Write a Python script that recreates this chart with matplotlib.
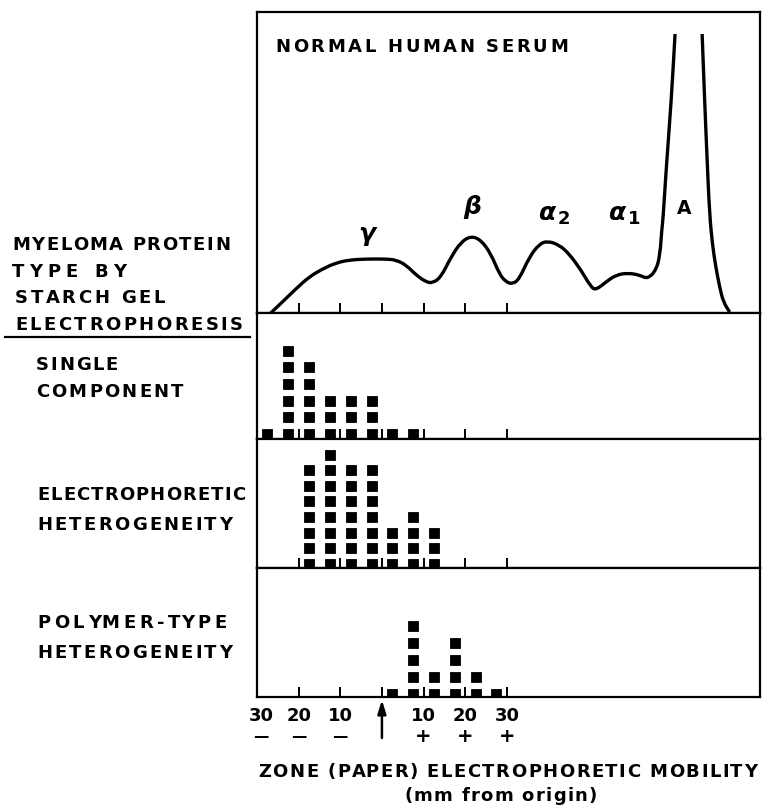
import numpy as np
import matplotlib
matplotlib.use("Agg")
import matplotlib.pyplot as plt
from matplotlib.lines import Line2D
from matplotlib.path import Path
from matplotlib.patches import PathPatch
from matplotlib.font_manager import FontProperties
from matplotlib.textpath import text_to_path
import matplotlib.transforms as mtransforms

plt.rcParams['font.family'] = ['DejaVu Sans']

# densitometer trace of normal serum (mm from origin, relative height)
serum_left_mm = [-26.7, -23.9, -20.7, -17.5, -14.3, -11.1, -7.9, -3.8, 1.0, 3.4, 5.8, 8.2,
                 10.6, 12.2, 14.2, 16.6, 19.0, 21.4, 23.8, 26.2, 28.2, 29.8, 31.4, 33.0,
                 35.4, 37.8, 39.8, 42.6, 45.0, 47.8, 50.2, 51.4, 53.8, 56.2, 59.0, 61.9,
                 63.8, 65.9, 66.8, 67.2, 67.5, 68.3, 69.5, 70.4]
serum_left_height = [0, 11, 24, 36, 44, 50, 53, 54, 54, 53, 48, 38,
                     31, 30, 36, 56, 71, 77, 73, 59, 39, 31, 29, 34,
                     56, 69, 72, 68, 59, 43, 26, 23, 31, 38, 40, 38,
                     34, 43, 59, 83, 93, 146, 213, 279]
serum_right_mm = [76.9, 77.5, 78.1, 78.7, 79.4, 80.1, 81.1, 82.0, 83.5]
serum_right_height = [279, 213, 153, 98, 68, 48, 26, 11, 1]

fraction_labels = ['\u03b3', '\u03b2', '\u03b1', '\u03b1', 'A']
fraction_sub = ['', '', '2', '1', '']
fraction_mm = [-3.5, 21.7, 39.6, 56.4, 72.5]
fraction_height = [79, 106, 100, 100, 105]

# myeloma cases per 5 mm zone
zone_mm = [-27.5, -22.5, -17.5, -12.5, -7.5, -2.5, 2.5, 7.5, 12.5, 17.5, 22.5, 27.5]
single_component = [1, 6, 5, 3, 3, 3, 1, 1, 0, 0, 0, 0]
electro_hetero = [0, 0, 7, 8, 7, 7, 3, 4, 3, 0, 0, 0]
polymer_hetero = [0, 0, 0, 0, 0, 0, 1, 5, 2, 4, 2, 1]

tick_mm = [-30, -20, -10, 0, 10, 20, 30]
tick_text = ['30', '20', '10', '', '10', '20', '30']
tick_sign = ['\u2014', '\u2014', '\u2014', '', '+', '+', '+']

W, H = 771, 807
fig = plt.figure(figsize=(W / 100, H / 100), dpi=100)


def fx(px):
    return px / W


def fy(py):
    return 1 - py / H


FS = 13
prop = FontProperties(family='DejaVu Sans', weight='bold', size=FS)


def adv(s):
    # advance width of s in pixels
    w1 = text_to_path.get_text_width_height_descent('x' + s + 'x', prop, ismath=False)[0]
    w0 = text_to_path.get_text_width_height_descent('xx', prop, ismath=False)[0]
    return (w1 - w0) * 100 / 72


def spaced_text(x0, x1, y, s):
    # lettering with wide tracking, spread from x0 to x1 (pixels)
    natural = adv(s)
    track = (x1 - x0 - natural) / max(len(s) - 1, 1)
    for i, ch in enumerate(s):
        if ch == ' ':
            continue
        x = x0 + adv(s[:i]) + i * track
        fig.text(fx(x), fy(y), ch, ha='left', va='center', fontproperties=prop)


def smooth_line(ax, xs, ys, lw):
    pts = np.column_stack([xs, ys])
    verts = [pts[0]]
    codes = [Path.MOVETO]
    for i in range(1, len(pts) - 1):
        verts += [pts[i], (pts[i] + pts[i + 1]) / 2]
        codes += [Path.CURVE3, Path.CURVE3]
    verts.append(pts[-1])
    codes.append(Path.LINETO)
    ax.add_patch(PathPatch(Path(verts, codes), fill=False, lw=lw, ec='black',
                           capstyle='butt'))


left, right = 257, 760
bounds = [(12, 313), (313, 439), (439, 568), (568, 697)]
axes = []
for top, bot in bounds:
    ax = fig.add_axes([fx(left), fy(bot), fx(right) - fx(left), (bot - top) / H])
    ax.set_xlim(-30, 90.8)
    for s in ax.spines.values():
        s.set_linewidth(1.6)
    ax.set_xticks(tick_mm)
    ax.tick_params(axis='x', direction='in', length=7, width=1.4, labelbottom=False)
    ax.set_yticks([])
    axes.append(ax)

# top panel: serum pattern
ax0 = axes[0]
smooth_line(ax0, serum_left_mm, serum_left_height, 2.4)
smooth_line(ax0, serum_right_mm, serum_right_height, 2.4)
ax0.set_ylim(0, 301)
for lab, sub, x, y in zip(fraction_labels, fraction_sub, fraction_mm, fraction_height):
    if lab == 'A':
        ax0.text(x, y, lab, fontsize=13.5, ha='center', va='center', fontweight='bold')
        continue
    ax0.text(x, y, lab, fontsize=18, ha='center', va='center', fontweight='bold',
             fontstyle='italic')
    if sub:
        ax0.text(x + 4.2, y - 6, sub, fontsize=13, ha='center', va='center',
                 fontweight='bold')
spaced_text(275, 568, 47, 'NORMAL HUMAN SERUM')

# dot panels
panels = [single_component, electro_hetero, polymer_hetero]
ylims = [(0.7, 8.25), (0.74, 9.0), (0.82, 8.4)]
for ax, counts, yl in zip(axes[1:], panels, ylims):
    xs, ys = [], []
    for x, n in zip(zone_mm, counts):
        for k in range(n):
            xs.append(x)
            ys.append(k + 1)
    ax.plot(xs, ys, 's', color='black', ms=7.8, mec='black', mew=0.6, ls='none')
    ax.set_ylim(*yl)

# bottom axis labels
axb = axes[-1]
trans = mtransforms.blended_transform_factory(axb.transData, fig.transFigure)
for x, t, s in zip(tick_mm, tick_text, tick_sign):
    xt = x + 1.0 if x == -30 else x
    axb.text(xt, fy(716), t, transform=trans, ha='center', va='center', fontsize=FS,
             fontweight='bold')
    axb.text(xt, fy(737), s, transform=trans, ha='center', va='center',
             fontsize=11 if s != '+' else 14, fontweight='bold')
axb.annotate('', xy=(0, fy(700)), xytext=(0, fy(738)), xycoords=trans, textcoords=trans,
             arrowprops=dict(arrowstyle='-|>,head_length=0.8,head_width=0.25', lw=1.8,
                             color='black', shrinkA=0, shrinkB=0))

spaced_text(258, 757, 772, 'ZONE (PAPER) ELECTROPHORETIC MOBILITY')
spaced_text(404, 597, 796, '(mm from origin)')

# left labels
left_text = [
    (12, 230, 245, 'MYELOMA PROTEIN'),
    (12, 125, 272, 'TYPE BY'),
    (15, 165, 298, 'STARCH GEL'),
    (15, 243, 325, 'ELECTROPHORESIS'),
    (36, 118, 365, 'SINGLE'),
    (36, 183, 392, 'COMPONENT'),
    (37, 245, 495, 'ELECTROPHORETIC'),
    (37, 232, 525, 'HETEROGENEITY'),
    (37, 227, 623, 'POLYMER-TYPE'),
    (37, 232, 653, 'HETEROGENEITY'),
]
for x0, x1, y, t in left_text:
    spaced_text(x0, x1, y, t)
fig.add_artist(Line2D([fx(5), fx(250)], [fy(337), fy(337)], color='black', lw=1.6))

fig.savefig('out.png', dpi=100, facecolor='white')
